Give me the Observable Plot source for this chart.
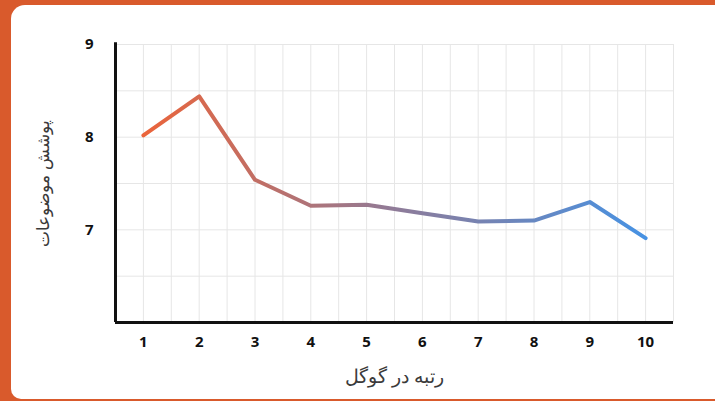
<!DOCTYPE html>
<html>
<head>
<meta charset="utf-8">
<script src="https://cdn.jsdelivr.net/npm/d3@7"></script>
<script src="https://cdn.jsdelivr.net/npm/@observablehq/plot@0.6"></script>
<style>
  html, body { margin: 0; padding: 0; }
  body { width: 715px; height: 401px; background: #d95a2c; position: relative; overflow: hidden; }
  #card { position: absolute; left: 11px; top: 5px; width: 720px; height: 394px; background: #fff; border-radius: 14px 0 0 10px; }
  #chart { position: absolute; left: 0; top: 0; }
  #chart svg { background: transparent !important; }
  .axlabel text { font-family: "DejaVu Sans", sans-serif; }
  .xlab { transform: translateX(-12px); }
</style>
</head>
<body>
<div id="card"></div>
<div id="chart"></div>
<script>
const ranks = [1, 2, 3, 4, 5, 6, 7, 8, 9, 10];
const coverage = [8.02, 8.44, 7.54, 7.26, 7.27, 7.18, 7.09, 7.10, 7.30, 6.91];
const xTicks = [1, 2, 3, 4, 5, 6, 7, 8, 9, 10];
const yTicks = [7, 8, 9];
const xLabel = "رتبه در گوگل";
const yLabel = "پوشش موضوعات";

const data = ranks.map((r, i) => ({rank: r, value: coverage[i]}));

const gradient = () => {
  const svgNS = "http://www.w3.org/2000/svg";
  const defs = document.createElementNS(svgNS, "defs");
  const lg = document.createElementNS(svgNS, "linearGradient");
  lg.setAttribute("id", "lineGrad");
  lg.setAttribute("x1", "0"); lg.setAttribute("x2", "1");
  lg.setAttribute("y1", "0"); lg.setAttribute("y2", "0");
  [["0%", "#eb643a"], ["50%", "#8f7b98"], ["100%", "#4792e3"]].forEach(([o, c]) => {
    const s = document.createElementNS(svgNS, "stop");
    s.setAttribute("offset", o); s.setAttribute("stop-color", c);
    lg.appendChild(s);
  });
  defs.appendChild(lg);
  return defs;
};

const chart = Plot.plot({
  width: 715,
  height: 401,
  marginLeft: 115,
  marginRight: 42,
  marginTop: 44,
  marginBottom: 79,
  style: {background: "transparent", fontFamily: "'Open Sans', sans-serif", color: "#111"},
  x: {domain: [0.5, 10.5]},
  y: {domain: [6, 9]},
  marks: [
    gradient,
    Plot.gridX({ticks: 20, stroke: "#e6e6e6", strokeOpacity: 1, strokeWidth: 1}),
    Plot.gridY({ticks: 6, stroke: "#e6e6e6", strokeOpacity: 1, strokeWidth: 1}),
    Plot.axisY(yTicks, {tickSize: 0, tickPadding: 22, tickFormat: "d", fontSize: 15, fontWeight: "bold", label: null}),
    Plot.axisX(xTicks, {tickSize: 0, tickPadding: 14, tickFormat: "d", fontSize: 15, fontWeight: "bold", label: null}),
    Plot.axisY({ticks: [], tickSize: 0, label: yLabel, labelAnchor: "center", labelArrow: "none", labelOffset: 79, fontSize: 17, fontWeight: "normal", fill: "#3a3a3a", className: "axlabel"}),
    Plot.axisX({ticks: [], tickSize: 0, label: xLabel, labelAnchor: "center", labelArrow: "none", labelOffset: 60, fontSize: 19, fontWeight: "normal", fill: "#3a3a3a", className: "axlabel xlab"}),
    Plot.ruleX([0.5], {stroke: "#111", strokeWidth: 3, y1: 6, y2: 9.02}),
    Plot.ruleY([6], {stroke: "#111", strokeWidth: 3}),
    Plot.line(data, {x: "rank", y: "value", stroke: "url(#lineGrad)", strokeWidth: 4, strokeLinecap: "round", strokeLinejoin: "round"})
  ]
});
document.getElementById("chart").appendChild(chart);
</script>
</body>
</html>
